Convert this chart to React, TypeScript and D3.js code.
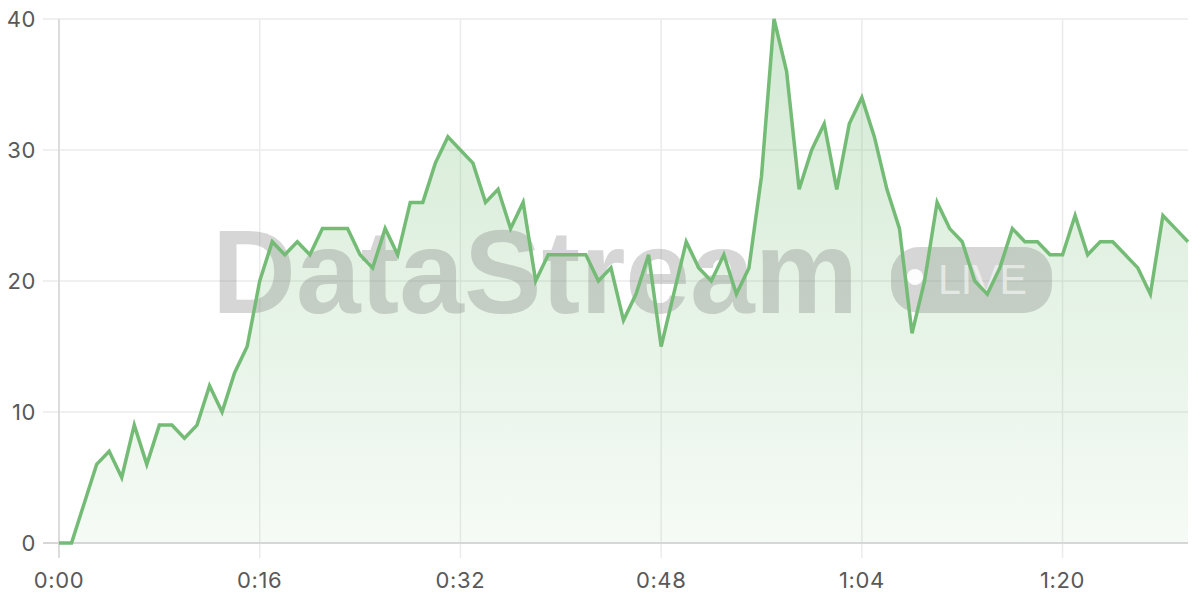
import React from "react";
import * as d3 from "d3";

const values: number[] = [
  0, 0, 3, 6, 7, 5, 9, 6, 9, 9, 8, 9, 12, 10, 13, 15,
  20, 23, 22, 23, 22, 24, 24, 24, 22, 21, 24, 22, 26, 26, 29, 31,
  30, 29, 26, 27, 24, 26, 20, 22, 22, 22, 22, 20, 21, 17, 19, 22,
  15, 19, 23, 21, 20, 22, 19, 21, 28, 40, 36, 27, 30, 32, 27, 32,
  34, 31, 27, 24, 16, 20, 26, 24, 23, 20, 19, 21, 24, 23, 23, 22,
  22, 25, 22, 23, 23, 22, 21, 19, 25, 24, 23,
];
const seconds: number[] = values.map((_, i) => i);
const xTicks: number[] = [0, 16, 32, 48, 64, 80];
const yTicks: number[] = [0, 10, 20, 30, 40];
const watermark = "DataStream";
const liveLabel = "LIVE";

const W = 1200;
const H = 600;
const LINE = "#74bc76";
const FONT = "Inter, 'Open Sans', sans-serif";

function fmt(s: number) {
  const m = Math.floor(s / 60);
  const r = s % 60;
  return `${m}:${r < 10 ? "0" : ""}${r}`;
}

export default function App() {
  const x = d3.scaleLinear().domain([0, 90]).range([59, 1188]);
  const y = d3.scaleLinear().domain([0, 40]).range([543, 19]);
  const pts = seconds.map((s, i) => [s, values[i]] as [number, number]);
  const line = d3
    .line<[number, number]>()
    .x((d) => x(d[0]))
    .y((d) => y(d[1]));
  const area = d3
    .area<[number, number]>()
    .x((d) => x(d[0]))
    .y0(y(0))
    .y1((d) => y(d[1]));
  const left = x(0) - 16;
  const right = x(90);

  return (
    <svg
      width={W}
      height={H}
      style={{ position: "absolute", left: 0, top: 0, background: "#fff" }}
    >
      <defs>
        <linearGradient id="fillGrad" gradientUnits="userSpaceOnUse" x1="0" y1={y(40)} x2="0" y2={y(0)}>
          <stop offset="0%" stopColor={LINE} stopOpacity={0.32} />
          <stop offset="100%" stopColor={LINE} stopOpacity={0.07} />
        </linearGradient>
      </defs>
      {yTicks.map((t) => (
        <line key={"gy" + t} x1={left} x2={right} y1={y(t)} y2={y(t)} stroke="#ebebeb" strokeWidth={1.5} />
      ))}
      {xTicks.map((t) => (
        <line key={"gx" + t} x1={x(t)} x2={x(t)} y1={y(40)} y2={y(0) + 15} stroke="#ebebeb" strokeWidth={1.5} />
      ))}
      <path d={area(pts) || ""} fill="url(#fillGrad)" />
      <g opacity={0.3}>
        <text
          x={212}
          y={313}
          fontFamily="'Liberation Sans', Arial, sans-serif"
          fontWeight="bold"
          fontSize={119}
          textLength={646}
          lengthAdjust="spacingAndGlyphs"
          fill="#7a7a7a"
        >
          {watermark}
        </text>
        <rect x={891} y={247} width={161} height={66} rx={28} fill="#7a7a7a" />
      </g>
      <circle cx={915} cy={277} r={8} fill="#fff" opacity={0.95} />
      <text
        x={938}
        y={294}
        fontFamily="'Liberation Sans', Arial, sans-serif"
        fontSize={43}
        textLength={89}
        lengthAdjust="spacingAndGlyphs"
        fill="#fff"
        opacity={0.55}
      >
        {liveLabel}
      </text>
      <line x1={left} x2={right} y1={y(0)} y2={y(0)} stroke="#cfcfcf" strokeWidth={1.5} />
      <line x1={x(0)} x2={x(0)} y1={y(40)} y2={y(0) + 15} stroke="#d6d6d6" strokeWidth={1.5} />
      <path d={line(pts) || ""} fill="none" stroke={LINE} strokeWidth={3.5} strokeLinejoin="miter" />
      {yTicks.map((t) => (
        <text
          key={"ly" + t}
          x={36}
          y={y(t)}
          dy="0.36em"
          textAnchor="end"
          fontFamily={FONT}
          fontSize={22}
          letterSpacing={0.6}
          fill="#595959"
        >
          {t}
        </text>
      ))}
      {xTicks.map((t) => (
        <text
          key={"lx" + t}
          x={x(t)}
          y={588}
          textAnchor="middle"
          fontFamily={FONT}
          fontSize={22}
          letterSpacing={0.6}
          fill="#595959"
        >
          {fmt(t)}
        </text>
      ))}
    </svg>
  );
}
